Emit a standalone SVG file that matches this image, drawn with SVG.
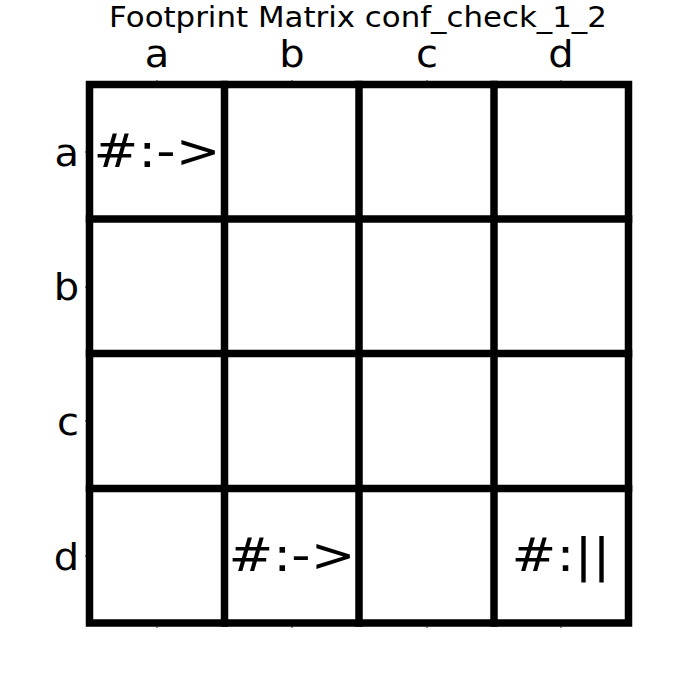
<svg xmlns="http://www.w3.org/2000/svg" width="700" height="700" viewBox="0 0 700 700">
<style>
text{font-family:"DejaVu Sans","Liberation Sans",sans-serif;fill:#000}
.t{font-size:27.8px;text-anchor:middle}
.lx{font-size:37px;text-anchor:middle}
.ly{font-size:37px;text-anchor:end}
.c{font-size:46.5px;text-anchor:middle}
.tick{stroke:#000;stroke-width:0.8}
.grid{stroke:#000;stroke-width:7.5;fill:none;stroke-linecap:square}
</style>
<rect width="700" height="700" fill="#fff"/>
<text class="t" transform="translate(358,27) scale(1.11,1)">Footprint Matrix conf_check_1_2</text>
<g id="ticks">
<line class="tick" x1="157" y1="80" x2="157" y2="84"/>
<line class="tick" x1="292" y1="80" x2="292" y2="84"/>
<line class="tick" x1="427" y1="80" x2="427" y2="84"/>
<line class="tick" x1="561" y1="80" x2="561" y2="84"/>
<line class="tick" x1="157" y1="623" x2="157" y2="628"/>
<line class="tick" x1="292" y1="623" x2="292" y2="628"/>
<line class="tick" x1="427" y1="623" x2="427" y2="628"/>
<line class="tick" x1="561" y1="623" x2="561" y2="628"/>
<line class="tick" x1="85" y1="152" x2="90" y2="152"/>
<line class="tick" x1="85" y1="287" x2="90" y2="287"/>
<line class="tick" x1="85" y1="421" x2="90" y2="421"/>
<line class="tick" x1="85" y1="556" x2="90" y2="556"/>
</g>
<g id="col-labels">
<text class="lx" transform="translate(157,67) scale(1.08,1)">a</text>
<text class="lx" transform="translate(292,67) scale(1.08,1)">b</text>
<text class="lx" transform="translate(427,67) scale(1.08,1)">c</text>
<text class="lx" transform="translate(561,67) scale(1.08,1)">d</text>
</g>
<g id="row-labels">
<text class="ly" transform="translate(79,166) scale(1.08,1)">a</text>
<text class="ly" transform="translate(79,300) scale(1.08,1)">b</text>
<text class="ly" transform="translate(79,435) scale(1.08,1)">c</text>
<text class="ly" transform="translate(79,570) scale(1.08,1)">d</text>
</g>
<g id="grid">
<rect class="grid" x="89.5" y="84.5" width="539" height="538.5"/>
<line class="grid" x1="224.5" y1="84.5" x2="224.5" y2="623"/>
<line class="grid" x1="359" y1="84.5" x2="359" y2="623"/>
<line class="grid" x1="494" y1="84.5" x2="494" y2="623"/>
<line class="grid" x1="89.5" y1="219" x2="628.5" y2="219"/>
<line class="grid" x1="89.5" y1="353.5" x2="628.5" y2="353.5"/>
<line class="grid" x1="89.5" y1="488.5" x2="628.5" y2="488.5"/>
</g>
<g id="cells">
<text class="c" transform="translate(157,167) scale(1.15,1)">#:-&gt;</text>
<text class="c" transform="translate(292,571) scale(1.15,1)">#:-&gt;</text>
<text class="c" transform="translate(561,571) scale(1.15,1)">#:||</text>
</g>
</svg>
